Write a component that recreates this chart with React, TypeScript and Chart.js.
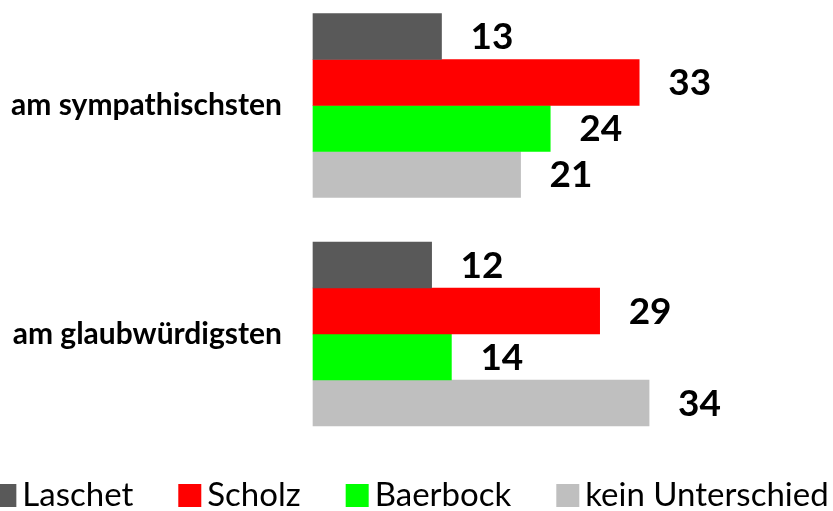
import React, { useEffect, useRef } from "react";
import { Chart, registerables } from "chart.js";

Chart.register(...registerables);

const categories = ["am sympathischsten", "am glaubwürdigsten"];
const seriesNames = ["Laschet", "Scholz", "Baerbock", "kein Unterschied"];
const laschet = [13, 12];
const scholz = [33, 29];
const baerbock = [24, 14];
const keinUnterschied = [21, 34];
const seriesColors = ["#595959", "#FF0000", "#00FF00", "#BFBFBF"];

const FONT = "Lato, 'Open Sans', 'DejaVu Sans', sans-serif";

const valueLabels = {
  id: "valueLabels",
  afterDatasetsDraw(chart: any) {
    const ctx = chart.ctx;
    ctx.save();
    ctx.font = `bold 37px ${FONT}`;
    ctx.fillStyle = "#000000";
    ctx.textAlign = "left";
    ctx.textBaseline = "middle";
    chart.data.datasets.forEach((ds: any, i: number) => {
      const meta = chart.getDatasetMeta(i);
      meta.data.forEach((el: any, j: number) => {
        ctx.fillText(String(ds.data[j]), el.x + 29, el.y + 1);
      });
    });
    ctx.restore();
  },
};

const customLegend = {
  id: "customLegend",
  afterDraw(chart: any) {
    const ctx = chart.ctx;
    ctx.save();
    ctx.font = `33px ${FONT}`;
    ctx.textAlign = "left";
    ctx.textBaseline = "alphabetic";
    const box = 23;
    const gapText = 6;
    const gapItem = 45;
    const items = chart.data.datasets.map((ds: any) => ({
      label: ds.label,
      color: ds.backgroundColor,
      w: ctx.measureText(ds.label).width,
    }));
    const total =
      items.reduce((s: number, it: any) => s + box + gapText + it.w, 0) +
      gapItem * (items.length - 1);
    let x = 411 - total / 2;
    items.forEach((it: any) => {
      ctx.fillStyle = it.color;
      ctx.fillRect(x, 484, box, box);
      x += box + gapText;
      ctx.fillStyle = "#000000";
      ctx.fillText(it.label, x, 506);
      x += it.w + gapItem;
    });
    ctx.restore();
  },
};

export default function App() {
  const canvasRef = useRef<HTMLCanvasElement | null>(null);

  useEffect(() => {
    document.body.style.margin = "0";
    const canvas = canvasRef.current;
    if (!canvas) return;
    const seriesData = [laschet, scholz, baerbock, keinUnterschied];
    const chart = new Chart(canvas, {
      type: "bar",
      data: {
        labels: categories,
        datasets: seriesNames.map((name, i) => ({
          label: name,
          data: seriesData[i],
          backgroundColor: seriesColors[i],
          borderWidth: 0,
          barThickness: 46,
          clip: false as any,
        })),
      },
      options: {
        indexAxis: "y",
        animation: false,
        responsive: false,
        layout: { padding: { top: 105.5, bottom: 177, left: 0, right: 6 } },
        plugins: {
          legend: { display: false },
          tooltip: { enabled: false },
        },
        scales: {
          x: { display: false, min: 0, max: 52 },
          y: {
            type: "category",
            offset: false,
            grid: { display: false, drawTicks: false },
            border: { display: false },
            ticks: {
              color: "#000000",
              padding: 31,
              font: { family: FONT, weight: "bold", size: 30 },
            },
            afterFit(scale: any) {
              scale.width = 313;
            },
          },
        },
      },
      plugins: [valueLabels, customLegend],
    });
    return () => chart.destroy();
  }, []);

  return (
    <div style={{ width: 833, height: 511, position: "relative" }}>
      <canvas ref={canvasRef} width={833} height={511} style={{ display: "block" }} />
    </div>
  );
}
